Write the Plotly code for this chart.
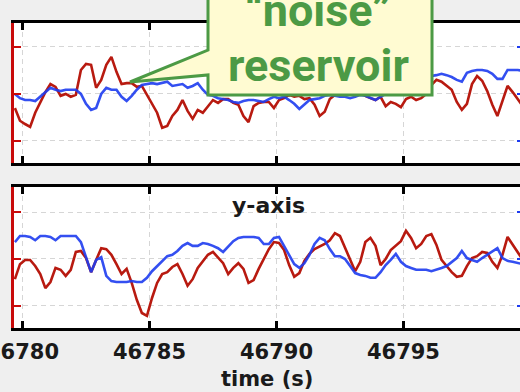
import plotly.graph_objects as go

# ---------------- data ----------------
TIME = [46779.7, 46779.9, 46780.1, 46780.3, 46780.5, 46780.7, 46780.9, 46781.1, 46781.3, 46781.5,
        46781.7, 46781.9, 46782.1, 46782.3, 46782.5, 46782.7, 46782.9, 46783.1, 46783.3, 46783.5,
        46783.7, 46783.9, 46784.1, 46784.3, 46784.5, 46784.7, 46784.9, 46785.1, 46785.3, 46785.5,
        46785.7, 46785.9, 46786.1, 46786.3, 46786.5, 46786.7, 46786.9, 46787.1, 46787.3, 46787.5,
        46787.7, 46787.9, 46788.1, 46788.3, 46788.5, 46788.7, 46788.9, 46789.1, 46789.3, 46789.5,
        46789.7, 46789.9, 46790.1, 46790.3, 46790.5, 46790.7, 46790.9, 46791.1, 46791.3, 46791.5,
        46791.7, 46791.9, 46792.1, 46792.3, 46792.5, 46792.7, 46792.9, 46793.1, 46793.3, 46793.5,
        46793.7, 46793.9, 46794.1, 46794.3, 46794.5, 46794.7, 46794.9, 46795.1, 46795.3, 46795.5,
        46795.7, 46795.9, 46796.1, 46796.3, 46796.5, 46796.7, 46796.9, 46797.1, 46797.3, 46797.5,
        46797.7, 46797.9, 46798.1, 46798.3, 46798.5, 46798.7, 46798.9, 46799.1, 46799.3, 46799.5,
        46799.7]

# top panel (x-axis position)
TOP_RED = [-0.30, -0.57, -0.64, -0.70, -0.40, -0.19, 0.04, 0.21, 0.15, -0.04,
           0.00, -0.06, -0.02, 0.51, 0.64, 0.62, 0.13, 0.30, 0.62, 0.79,
           0.47, 0.21, 0.23, 0.23, 0.15, 0.17, -0.02, -0.21, -0.40, -0.72,
           -0.68, -0.47, -0.34, -0.13, -0.36, -0.53, -0.34, -0.40, -0.26, -0.13,
           -0.19, -0.11, -0.11, -0.19, -0.23, -0.47, -0.60, -0.26, -0.19, -0.17,
           -0.17, -0.30, -0.13, -0.09, -0.02, -0.06, -0.04, -0.11, -0.09, -0.23,
           -0.47, -0.38, -0.11, -0.02, 0.04, 0.13, 0.09, 0.00, 0.04, -0.04,
           -0.09, -0.13, -0.06, -0.26, -0.17, -0.21, -0.28, -0.11, -0.06, -0.13,
           -0.09, 0.00, 0.19, 0.30, 0.26, 0.17, 0.09, -0.17, -0.34, -0.21,
           0.21, 0.38, 0.28, 0.06, -0.23, -0.47, -0.15, 0.17, 0.04, -0.11,
           -0.26]
TOP_BLUE = [0.00, -0.09, -0.13, -0.13, -0.15, -0.06, 0.04, 0.13, 0.09, 0.06,
            0.09, 0.09, 0.09, 0.00, -0.21, -0.34, -0.30, 0.00, 0.13, 0.09,
            0.09, -0.06, -0.15, -0.04, 0.09, 0.19, 0.21, 0.23, 0.21, 0.23,
            0.26, 0.17, 0.19, 0.21, 0.13, 0.17, 0.23, 0.09, -0.02, -0.04,
            -0.09, -0.11, -0.13, -0.17, -0.19, -0.15, -0.13, -0.13, -0.15, -0.17,
            -0.11, -0.06, -0.09, -0.06, -0.13, -0.21, -0.32, -0.23, -0.13, -0.11,
            -0.09, -0.04, -0.02, -0.04, -0.06, -0.06, -0.09, -0.06, -0.02, -0.04,
            -0.09, -0.13, -0.06, 0.00, 0.04, 0.09, 0.13, 0.17, 0.21, 0.26,
            0.30, 0.34, 0.38, 0.40, 0.43, 0.40, 0.36, 0.30, 0.26, 0.45,
            0.49, 0.51, 0.51, 0.49, 0.43, 0.32, 0.32, 0.51, 0.51, 0.51,
            0.49]

# bottom panel (y-axis position)
BOT_RED = [-0.43, -0.11, -0.02, -0.02, -0.15, -0.32, -0.62, -0.49, -0.19, -0.23,
           -0.36, -0.23, 0.15, 0.17, 0.02, -0.28, -0.02, 0.23, 0.21, 0.09,
           -0.11, -0.32, -0.21, -0.51, -0.87, -1.15, -1.21, -0.83, -0.51, -0.32,
           -0.28, -0.17, -0.11, -0.32, -0.57, -0.43, -0.19, -0.06, 0.09, 0.15,
           0.02, -0.09, -0.32, -0.19, -0.09, -0.21, -0.51, -0.45, -0.21, 0.00,
           0.21, 0.36, 0.34, 0.19, -0.13, -0.38, -0.30, -0.04, 0.11, 0.21,
           0.26, 0.32, 0.40, 0.55, 0.49, 0.23, -0.02, -0.26, -0.06, 0.36,
           0.45, 0.28, -0.13, 0.00, 0.19, 0.28, 0.38, 0.60, 0.45, 0.23,
           0.32, 0.49, 0.53, 0.30, -0.02, -0.15, -0.28, -0.38, -0.36, -0.15,
           0.02, 0.06, 0.15, 0.13, -0.06, -0.19, 0.09, 0.47, 0.30, 0.15,
           -0.02]
BOT_BLUE = [0.36, 0.49, 0.49, 0.47, 0.40, 0.49, 0.49, 0.47, 0.40, 0.49,
            0.49, 0.49, 0.49, 0.36, 0.06, -0.28, -0.02, 0.04, -0.36, -0.47,
            -0.49, -0.49, -0.49, -0.47, -0.49, -0.49, -0.40, -0.26, -0.15, -0.06,
            0.06, 0.09, 0.17, 0.28, 0.34, 0.28, 0.28, 0.34, 0.32, 0.28,
            0.23, 0.15, 0.26, 0.38, 0.45, 0.47, 0.47, 0.47, 0.45, 0.32,
            0.32, 0.45, 0.47, 0.28, 0.06, -0.11, -0.19, -0.09, 0.09, 0.32,
            0.45, 0.40, 0.21, 0.06, 0.06, 0.00, -0.15, -0.30, -0.34, -0.36,
            -0.40, -0.40, -0.28, -0.13, -0.02, 0.11, -0.06, -0.15, -0.19, -0.23,
            -0.23, -0.23, -0.26, -0.23, -0.19, -0.15, -0.06, 0.02, 0.17, 0.02,
            -0.02, -0.06, 0.02, 0.09, 0.15, 0.23, 0.02, -0.04, -0.06, -0.09,
            -0.11]

X_TICKS = [46780, 46785, 46790, 46795]
X_TICK_LABELS = ["46780", "46785", "46790", "46795"]
X_RANGE = [46779.665, 46799.59]
TOP_Y_RANGE = [-1.47, 1.51]
BOT_Y_RANGE = [-1.47, 1.54]
Y_TICKS = [-1, 0, 1]

PANEL_TITLE = "y-axis"
X_TITLE = "time (s)"
CALLOUT_LINES = ["\u201cnoise\u201d", "reservoir"]

# ---------------- style ----------------
W, H = 520, 392
RED = "#B81A10"
BLUE = "#1E3CF0"
AXRED = "#C80A0A"
GREEN = "#4C9A45"
GRID = "#D6D6D6"
BOLD = dict(family="DejaVu Sans", size=21, color="#1A1A1A", weight="bold")
LW = 2.6


def px(x):
    return x / W


def py(y):
    return 1 - y / H


fig = go.Figure()
fig.add_trace(go.Scatter(x=TIME, y=TOP_RED, xaxis="x", yaxis="y", mode="lines",
                         line=dict(color=RED, width=LW), showlegend=False))
fig.add_trace(go.Scatter(x=TIME, y=TOP_BLUE, xaxis="x", yaxis="y3", mode="lines",
                         line=dict(color=BLUE, width=LW), opacity=0.9, showlegend=False))
fig.add_trace(go.Scatter(x=TIME, y=BOT_RED, xaxis="x2", yaxis="y2", mode="lines",
                         line=dict(color=RED, width=LW), showlegend=False))
fig.add_trace(go.Scatter(x=TIME, y=BOT_BLUE, xaxis="x2", yaxis="y4", mode="lines",
                         line=dict(color=BLUE, width=LW), opacity=0.9, showlegend=False))

dom_x = [px(14), 1.0]
top_dom = [py(163), py(23)]
bot_dom = [py(328), py(186.7)]

xcommon = dict(range=X_RANGE, tickmode="array", tickvals=X_TICKS, ticktext=X_TICK_LABELS,
               showline=True, linecolor="black", linewidth=3, mirror="ticks",
               ticks="inside", ticklen=7, tickwidth=3, tickcolor="black",
               showgrid=True, gridcolor=GRID, gridwidth=1, griddash="5px,4px",
               zeroline=False, domain=dom_x, fixedrange=True, automargin=False)
ycommon = dict(tickmode="array", tickvals=Y_TICKS, showticklabels=False,
               showline=True, linecolor=AXRED, linewidth=3, mirror=False,
               ticks="inside", ticklen=7, tickwidth=2, tickcolor=AXRED,
               showgrid=True, gridcolor=GRID, gridwidth=1, griddash="5px,4px",
               zeroline=False, side="left", automargin=False, fixedrange=True)
yright = dict(tickmode="array", tickvals=Y_TICKS, showticklabels=False,
              showline=False, ticks="inside", ticklen=3, tickwidth=2, tickcolor=BLUE,
              showgrid=False, zeroline=False, side="right", automargin=False,
              fixedrange=True)

fig.update_layout(
    width=W, height=H,
    margin=dict(l=0, r=0, t=0, b=0, pad=0, autoexpand=False),
    paper_bgcolor="#EFEFEF",
    plot_bgcolor="white",
    xaxis=dict(xcommon, anchor="y", showticklabels=False),
    xaxis2=dict(xcommon, anchor="y2", showticklabels=True, tickfont=BOLD,
                ticklabelstandoff=3, ticklabeloverflow="allow"),
    yaxis=dict(ycommon, range=TOP_Y_RANGE, domain=top_dom, anchor="x"),
    yaxis2=dict(ycommon, range=BOT_Y_RANGE, domain=bot_dom, anchor="x2"),
    yaxis3=dict(yright, range=TOP_Y_RANGE, overlaying="y", anchor="x"),
    yaxis4=dict(yright, range=BOT_Y_RANGE, overlaying="y2", anchor="x2"),
)

# callout box with pointer
pts = [(208, -8), (432, -8), (432, 95), (208, 95), (208, 75), (130, 82), (208, 50)]
path = "M " + " L ".join(f"{px(a):.4f},{py(b):.4f}" for a, b in pts) + " Z"
fig.add_shape(type="path", path=path, xref="paper", yref="paper",
              fillcolor="#FFFBD2", line=dict(color=GREEN, width=3), layer="above")

callfont = dict(family="Roboto", size=45, color=GREEN, weight="bold")
fig.add_annotation(text=CALLOUT_LINES[0], x=px(318), y=py(11), xref="paper", yref="paper",
                   showarrow=False, xanchor="center", yanchor="middle", font=callfont)
fig.add_annotation(text=CALLOUT_LINES[1], x=px(318.5), y=py(65.5), xref="paper", yref="paper",
                   showarrow=False, xanchor="center", yanchor="middle", font=callfont)

fig.add_annotation(text=PANEL_TITLE, x=px(268.5), y=py(205.6), xref="paper", yref="paper",
                   showarrow=False, xanchor="center", yanchor="middle",
                   font=dict(BOLD, size=22))
fig.add_annotation(text=X_TITLE, x=px(266.5), y=py(379.3), xref="paper", yref="paper",
                   showarrow=False, xanchor="center", yanchor="middle", font=BOLD)

fig.write_html("out.html")
